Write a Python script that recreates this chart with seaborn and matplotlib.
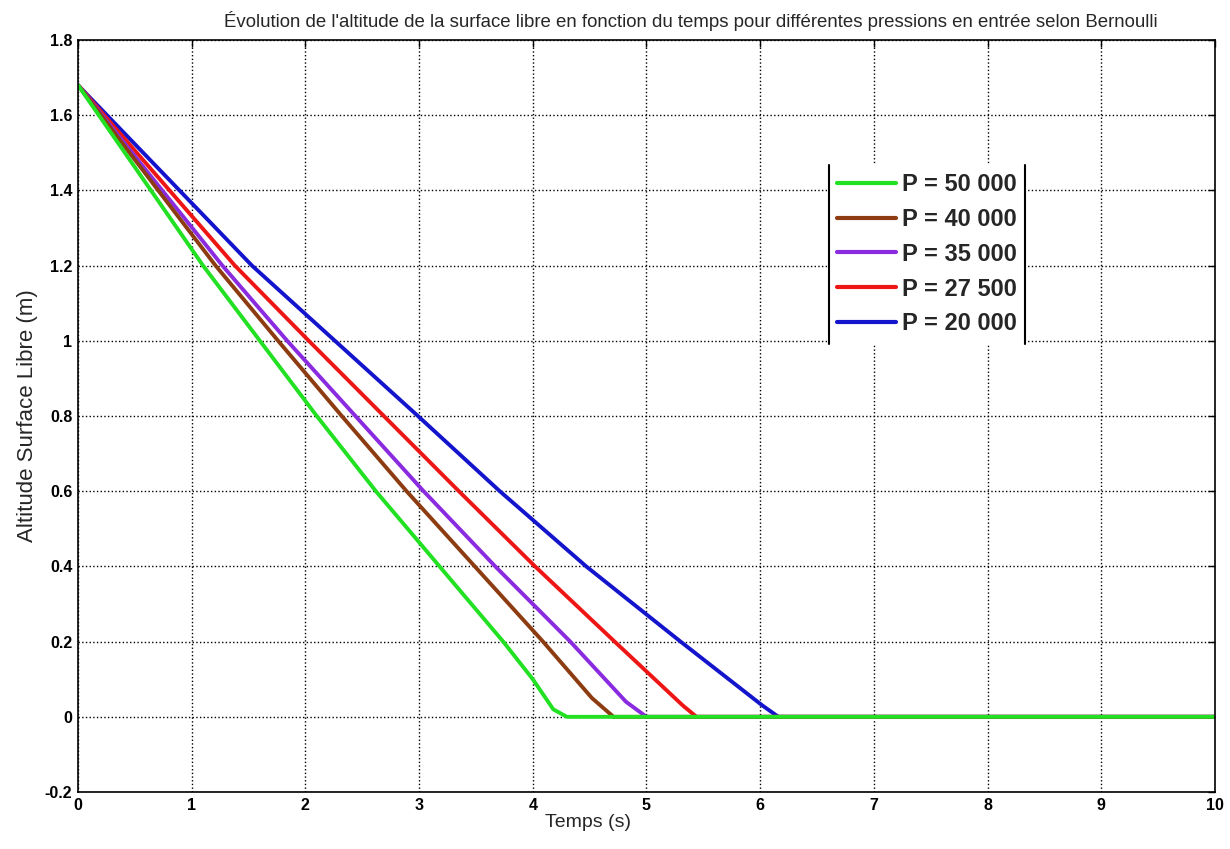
#!/usr/bin/env python3
import pandas as pd
import matplotlib
matplotlib.use("Agg")
import matplotlib.pyplot as plt
from matplotlib.lines import Line2D
from matplotlib.font_manager import FontProperties
import seaborn as sns

# values (time in s, height in m)
labels = ["P = 50 000", "P = 40 000", "P = 35 000", "P = 27 500", "P = 20 000"]

t_50000 = [0, 1.10, 1.60, 2.10, 2.62, 3.18, 3.74, 4.00, 4.18, 4.30, 10]
h_50000 = [1.68, 1.20, 1.00, 0.80, 0.60, 0.40, 0.20, 0.10, 0.02, 0.00, 0.00]

t_40000 = [0, 1.21, 1.76, 2.32, 2.89, 3.49, 4.09, 4.52, 4.71, 10]
h_40000 = [1.68, 1.20, 1.00, 0.80, 0.60, 0.40, 0.20, 0.05, 0.00, 0.00]

t_35000 = [0, 1.27, 1.84, 2.44, 3.04, 3.67, 4.33, 4.82, 5.00, 10]
h_35000 = [1.68, 1.20, 1.00, 0.80, 0.60, 0.40, 0.20, 0.04, 0.00, 0.00]

t_27500 = [0, 1.38, 2.03, 2.69, 3.35, 4.02, 4.72, 5.32, 5.44, 10]
h_27500 = [1.68, 1.20, 1.00, 0.80, 0.60, 0.40, 0.20, 0.03, 0.00, 0.00]

t_20000 = [0, 1.53, 2.26, 2.99, 3.71, 4.47, 5.30, 6.02, 6.16, 10]
h_20000 = [1.68, 1.20, 1.00, 0.80, 0.60, 0.40, 0.20, 0.03, 0.00, 0.00]

colors = ["#22e022", "#8c3c10", "#8a2be0", "#ee1515", "#1414cc"]

x_ticks = list(range(0, 11))
y_ticks = [-0.2, 0, 0.2, 0.4, 0.6, 0.8, 1, 1.2, 1.4, 1.6, 1.8]
y_tick_labels = ["-0.2", "0", "0.2", "0.4", "0.6", "0.8", "1", "1.2", "1.4", "1.6", "1.8"]

frames = []
for lab, t, h in zip(labels,
                     [t_50000, t_40000, t_35000, t_27500, t_20000],
                     [h_50000, h_40000, h_35000, h_27500, h_20000]):
    frames.append(pd.DataFrame({"Temps": t, "Altitude": h, "Pression": lab}))
df = pd.concat(frames, ignore_index=True)

sns.set_style("white")
plt.rcParams["font.family"] = ["Liberation Sans", "DejaVu Sans"]

fig = plt.figure(figsize=(12.3, 8.49), dpi=100)
ax = fig.add_axes([0.0634, 0.0671, 0.9244, 0.8858])

# draw in reverse so the green line ends up on top, like the reference
for lab, col in list(zip(labels, colors))[::-1]:
    sns.lineplot(data=df[df["Pression"] == lab], x="Temps", y="Altitude",
                 color=col, linewidth=2.8, ax=ax, estimator=None, sort=False)

ax.set_xlim(0, 10)
ax.set_ylim(-0.2, 1.8)
ax.set_xticks(x_ticks)
ax.set_xticklabels([str(v) for v in x_ticks], fontweight="bold", fontsize=11.5)
ax.set_yticks(y_ticks)
ax.set_yticklabels(y_tick_labels, fontweight="bold", fontsize=11.5)
ax.tick_params(direction="in", length=5, width=1, colors="black", top=True, right=True, pad=4)
ax.grid(True, linestyle=":", color="black", linewidth=1)
for sp in ax.spines.values():
    sp.set_color("black")
    sp.set_linewidth(1.2)

ax.set_xlabel("Temps (s)", fontsize=14, labelpad=1, x=0.4485)
ax.set_ylabel("Altitude Surface Libre (m)", fontsize=16, labelpad=5)
ax.set_title("Évolution de l'altitude de la surface libre en fonction du temps pour "
             "différentes pressions en entrée selon Bernoulli",
             fontsize=13.4, pad=9, x=0.539)

handles = [Line2D([0], [0], color=c, linewidth=3) for c in colors]
leg = ax.legend(handles, labels, loc="upper left", bbox_to_anchor=(0.6605, 0.834),
                prop=FontProperties(family="Liberation Sans", weight="bold", size=17),
                frameon=True, facecolor="white", edgecolor="none", framealpha=1,
                fancybox=False, borderaxespad=0, handlelength=2.5, handletextpad=0.25,
                labelspacing=0.5, borderpad=0.35)

# only the vertical edges of the legend box are visible in the reference
fig.canvas.draw()
bb = leg.get_window_extent().transformed(fig.transFigure.inverted())
for xx in (bb.x0, bb.x1):
    fig.add_artist(Line2D([xx, xx], [bb.y0, bb.y1], color="black", linewidth=1.5,
                          transform=fig.transFigure))

plt.savefig("out.png", dpi=100)
